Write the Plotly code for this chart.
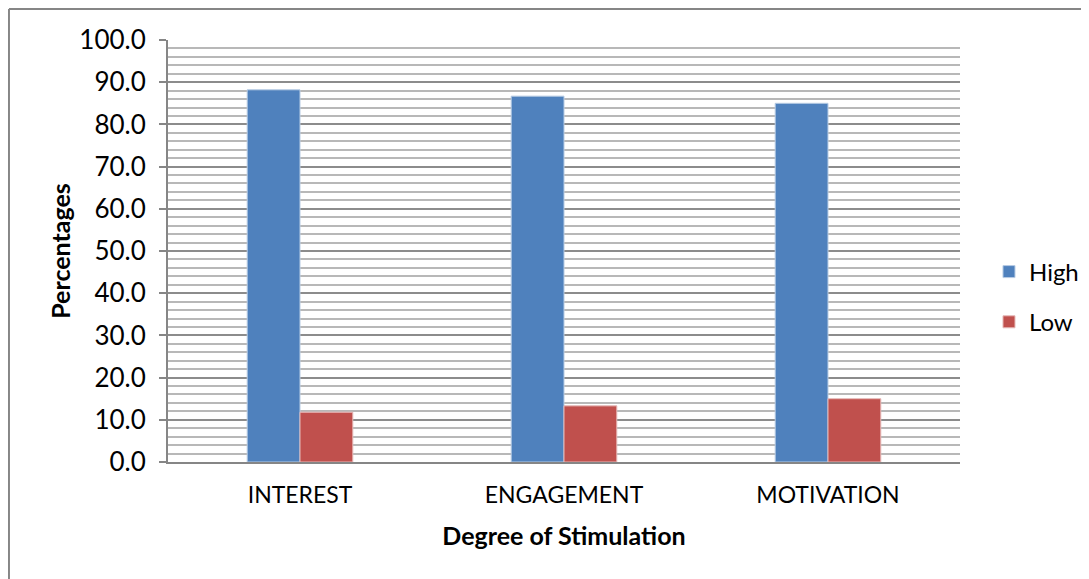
import plotly.graph_objects as go

categories = ["INTEREST", "ENGAGEMENT", "MOTIVATION"]
high = [88.2, 86.7, 85.0]
low = [11.8, 13.3, 15.0]
y_ticks = [0, 10, 20, 30, 40, 50, 60, 70, 80, 90, 100]
y_tick_labels = [f"{v:.1f}" for v in y_ticks]

FONT = "Lato, 'Open Sans', sans-serif"

fig = go.Figure()
fig.add_trace(go.Bar(x=categories, y=high, name="High", marker=dict(color="#4f81bd", line=dict(color="#b8cce4", width=1)), legendgroup="a"))
fig.add_trace(go.Bar(x=categories, y=low, name="Low", marker=dict(color="#c0504d", line=dict(color="#e6b9b8", width=1)), legendgroup="b"))

fig.update_layout(
    width=1089, height=579,
    margin=dict(l=160, r=137, t=32, b=125),
    paper_bgcolor="white", plot_bgcolor="white",
    barmode="group", bargap=0.6, bargroupgap=0,
    font=dict(family=FONT, size=23, color="black"),
    legend=dict(x=1.0366, y=0.391, xanchor="left", yanchor="middle",
                traceorder="grouped", tracegroupgap=16,
                font=dict(size=24, family=FONT), itemwidth=30),
    xaxis=dict(showline=True, linecolor="#868686", linewidth=2, automargin=False,
               ticks="", tickfont=dict(size=23), ticklabelstandoff=11,
               title=dict(text="<b>Degree of Stimulation</b>", font=dict(size=25), standoff=21)),
    yaxis=dict(range=[0, 100], tickvals=y_ticks, ticktext=y_tick_labels, automargin=False,
               showline=True, linecolor="#868686", linewidth=2,
               ticks="outside", ticklen=7, tickcolor="#868686", tickwidth=1.5,
               ticklabelstandoff=8,
               showgrid=True, gridcolor="#8c8c8c", gridwidth=1.5,
               minor=dict(dtick=2, showgrid=True, gridcolor="#b8b8b8", gridwidth=1.5),
               tickfont=dict(size=26),
               title=dict(text="<b>Percentages</b>", font=dict(size=25), standoff=2)),
    shapes=[
        dict(type="line", xref="paper", yref="paper", x0=-0.2008, x1=1.3, y0=1.0735, y1=1.0735,
             line=dict(color="#868686", width=2)),
        dict(type="line", xref="paper", yref="paper", x0=-0.2008, x1=-0.2008, y0=1.0735, y1=-0.4,
             line=dict(color="#868686", width=2)),
    ],
)

fig.write_html("out.html")
